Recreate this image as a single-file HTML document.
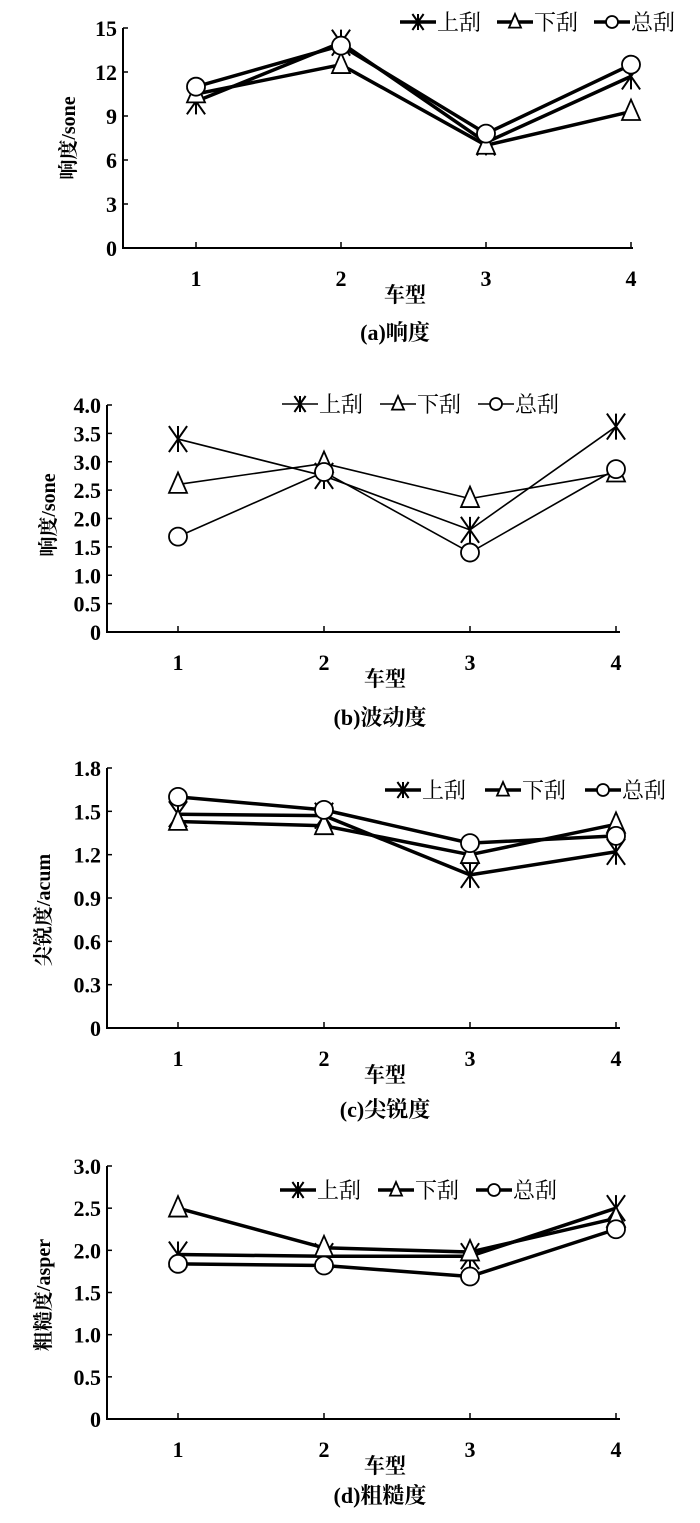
<!DOCTYPE html>
<html><head><meta charset="utf-8"><style>
html,body{margin:0;padding:0;background:#fff}
svg text{font-family:"Liberation Serif","Noto Serif CJK SC",serif;fill:#000}
</style></head><body>
<svg id="root" width="700" height="1518" viewBox="0 0 700 1518" xmlns="http://www.w3.org/2000/svg"></svg>
<script>
const categories = ["1","2","3","4"];
const seriesNames = ["上刮","下刮","总刮"];
// (a) loudness
const aTicks = ["0","3","6","9","12","15"];
const aUpper = [10.0,14.0,7.2,11.7];
const aLower = [10.5,12.5,7.0,9.3];
const aTotal = [11.0,13.8,7.8,12.5];
// (b) fluctuation
const bTicks = ["0","0.5","1.0","1.5","2.0","2.5","3.0","3.5","4.0"];
const bUpper = [3.4,2.75,1.8,3.62];
const bLower = [2.6,2.97,2.35,2.8];
const bTotal = [1.68,2.82,1.4,2.87];
// (c) sharpness
const cTicks = ["0","0.3","0.6","0.9","1.2","1.5","1.8"];
const cUpper = [1.48,1.47,1.06,1.22];
const cLower = [1.43,1.40,1.20,1.41];
const cTotal = [1.60,1.51,1.28,1.33];
// (d) roughness
const dTicks = ["0","0.5","1.0","1.5","2.0","2.5","3.0"];
const dUpper = [1.95,1.93,1.93,2.5];
const dLower = [2.5,2.03,1.98,2.38];
const dTotal = [1.84,1.82,1.69,2.25];

const NS="http://www.w3.org/2000/svg";
const root=document.getElementById('root');
function mk(tag,attrs,parent){const e=document.createElementNS(NS,tag);for(const k in attrs)e.setAttribute(k,attrs[k]);(parent||root).appendChild(e);return e;}

function marker(g,type,x,y,s){
  let m;
  if(type===0){
    m=mk('g',{},g);
    mk('path',{d:`M${x-s*0.7} ${y-s}L${x+s*0.7} ${y+s}M${x+s*0.7} ${y-s}L${x-s*0.7} ${y+s}M${x} ${y-s}L${x} ${y+s}`,stroke:'#000','stroke-width':2,fill:'none'},m);
  }else if(type===1){
    m=mk('path',{d:`M${x} ${y-s}L${x+s*0.75} ${y+s*0.7}L${x-s*0.75} ${y+s*0.7}Z`,fill:'#fff',stroke:'#000','stroke-width':1.8},g);
  }else{
    m=mk('circle',{cx:x,cy:y,r:s*0.75,fill:'#fff',stroke:'#000','stroke-width':1.8},g);
  }
  return m;
}

function chart(cfg,ticks,series){
  const g=mk('g',{});
  
  
  const ymax=parseFloat(ticks[ticks.length-1]);
  const Y=v=>cfg.y0-(v/ymax)*(cfg.y0-cfg.ytop);
  const X=i=>cfg.xs[0]+i*(cfg.xs[3]-cfg.xs[0])/3;
  const ax=mk('path',{d:`M${cfg.ax} ${cfg.ytop}L${cfg.ax} ${cfg.y0}L${cfg.xend} ${cfg.y0}`,stroke:'#000','stroke-width':2,fill:'none'},g);
  
  
  ticks.forEach((t,i)=>{
    const v=parseFloat(t),y=Y(v);
    mk('line',{x1:cfg.ax,x2:cfg.ax+5,y1:y,y2:y,stroke:'#000','stroke-width':1.5},g);
    const tx=mk('text',{x:cfg.ax-6,y:y+8,'text-anchor':'end','font-size':22,'font-weight':'bold'},g);
    tx.textContent=t;
    
    
  });
  categories.forEach((c,i)=>{
    const x=X(i);
    mk('line',{x1:x,x2:x,y1:cfg.y0,y2:cfg.y0-6,stroke:'#000','stroke-width':1.5},g);
    const tx=mk('text',{x:x,y:cfg.y0+38,'text-anchor':'middle','font-size':22,'font-weight':'bold'},g);
    tx.textContent=c;
    
    
  });
  const xt=mk('text',{x:cfg.xtx,y:cfg.y0+54,'text-anchor':'middle','font-size':21,'font-weight':'bold'},g);
  xt.textContent='车型';
  
  
  const cap=mk('text',{x:cfg.capx,y:cfg.capy,'text-anchor':'middle','font-size':22,'font-weight':'bold'},g);
  cap.textContent=cfg.caption;
  
  
  const yt=mk('text',{x:0,y:0,'text-anchor':'middle','font-size':20,'font-weight':'bold',transform:`translate(${cfg.ytx},${cfg.yty}) rotate(-90)`},g);
  yt.textContent=cfg.ytitle;
  
  
  series.forEach((vals,si)=>{
    const pts=vals.map((v,i)=>`${X(i)},${Y(v)}`).join(' ');
    const pl=mk('polyline',{points:pts,fill:'none',stroke:'#000','stroke-width':cfg.lw,'stroke-linejoin':'round'},g);
    
    
  });
  series.forEach((vals,si)=>{
    vals.forEach((v,i)=>{
      const m=marker(g,si,X(i),Y(v),si===0?13:12);
      
      
    });
  });
  const lg=mk('g',{},g);
  
  
  let x=cfg.lgx;
  seriesNames.forEach((n,si)=>{
    const e=mk('g',{},lg);
    
    
    mk('line',{x1:x,x2:x+36,y1:cfg.lgy,y2:cfg.lgy,stroke:'#000','stroke-width':cfg.lw},e);
    marker(e,si,x+18,cfg.lgy,8);
    const t=mk('text',{x:x+37,y:cfg.lgy+8,'font-size':22},e);
    t.textContent=n;
    x+=cfg.lgstep;
  });
}

chart({name:'chart-a-loudness',ax:123,y0:248,ytop:28,xs:[196,340,485,631],xend:633,lw:3.5,xtx:405,capx:395,capy:340,caption:'(a)响度',ytitle:'响度/sone',ytx:75,yty:138,lgx:400,lgy:22,lgstep:97},aTicks,[aUpper,aLower,aTotal]);
chart({name:'chart-b-fluctuation',ax:107,y0:632,ytop:405,xs:[178,322,469,616],xend:620,lw:1.6,xtx:385,capx:380,capy:725,caption:'(b)波动度',ytitle:'响度/sone',ytx:55,yty:515,lgx:282,lgy:404,lgstep:98},bTicks,[bUpper,bLower,bTotal]);
chart({name:'chart-c-sharpness',ax:107,y0:1028,ytop:768,xs:[178,322,469,616],xend:620,lw:3.5,xtx:385,capx:385,capy:1117,caption:'(c)尖锐度',ytitle:'尖锐度/acum',ytx:50,yty:910,lgx:385,lgy:790,lgstep:100},cTicks,[cUpper,cLower,cTotal]);
chart({name:'chart-d-roughness',ax:107,y0:1419,ytop:1166,xs:[178,322,469,616],xend:620,lw:3.5,xtx:385,capx:380,capy:1503,caption:'(d)粗糙度',ytitle:'粗糙度/asper',ytx:50,yty:1295,lgx:280,lgy:1190,lgstep:98},dTicks,[dUpper,dLower,dTotal]);
</script>
</body></html>
